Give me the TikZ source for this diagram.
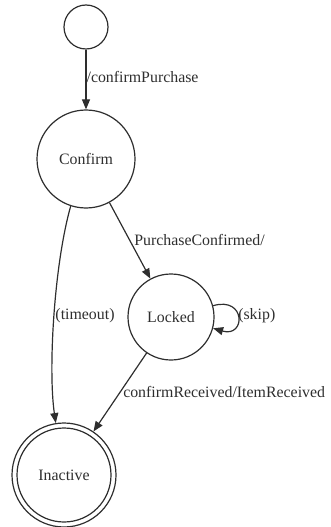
\documentclass[tikz,border=0pt]{standalone}
\usepackage{fontspec}
\setmainfont{Liberation Serif}
\usetikzlibrary{arrows.meta}
\definecolor{ink}{HTML}{2E2E2E}
\begin{document}
\begin{tikzpicture}[x=0.75pt,y=-0.75pt,
  every node/.style={text=ink,font=\fontsize{11.9}{13}\selectfont},
  state/.style={circle,draw=ink,line width=0.9pt,inner sep=0pt},
  edge/.style={draw=ink,line width=0.9pt,-{Triangle[length=7.5pt,width=6pt]}},
  lbl/.style={inner sep=0pt}]
\useasboundingbox (0,0) rectangle (330,527);
\node[state,minimum size=33pt] (S) at (86,27) {};
\node[state,minimum size=73.5pt] (C) at (86,159) {Confirm};
\node[state,minimum size=64.5pt] (L) at (171,317) {Locked};
\node[state,minimum size=78pt] (I) at (64,475) {};
\node[state,minimum size=70.5pt] (Iin) at (I) {Inactive};
\draw[edge] (S) -- (C) node[lbl,anchor=west,pos=0.45] (l1) {/confirmPurchase};
\draw[edge] (C) -- (L);
\node[lbl,anchor=west] (l2) at (134,240) {PurchaseConfirmed/};
\draw[edge] (C.252) .. controls (54,265) and (48,370) .. (I.99);
\node[lbl] (l3) at (85,316) {(timeout)};
\draw[edge] (L) -- (I);
\node[lbl,anchor=west] (l4) at (123,392) {confirmReceived/ItemReceived};
\draw[edge] (L.15) .. controls (246,296) and (246,338) .. (L.-15);
\node[lbl,anchor=west] (l5) at (238,316) {(skip)};
\end{tikzpicture}
\end{document}
